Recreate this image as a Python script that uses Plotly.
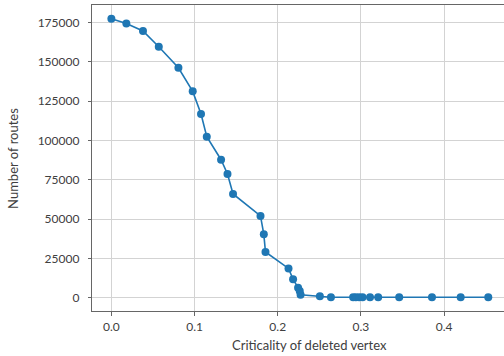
import plotly.graph_objects as go

criticality = [0.0, 0.018, 0.038, 0.057, 0.0806, 0.0978, 0.1078, 0.1147, 0.1319, 0.1396,
               0.1463, 0.1793, 0.1833, 0.1853, 0.2130, 0.2185, 0.2245, 0.2265, 0.2275,
               0.2507, 0.2640, 0.2907, 0.2940, 0.2980, 0.3020, 0.3110, 0.3208, 0.3461,
               0.3855, 0.4200, 0.4532]
routes = [177500, 174500, 169700, 159700, 146300, 131300, 116900, 102400, 87800, 78700,
          66000, 52000, 40300, 29100, 18600, 11700, 6400, 4200, 1800,
          1000, 300, 300, 300, 300, 300, 300, 300, 300,
          300, 300, 300]

x_ticks = [0.0, 0.1, 0.2, 0.3, 0.4]
x_tick_labels = ["0.0", "0.1", "0.2", "0.3", "0.4"]
y_ticks = [0, 25000, 50000, 75000, 100000, 125000, 150000, 175000]
y_tick_labels = ["0", "25000", "50000", "75000", "100000", "125000", "150000", "175000"]

x_title = "Criticality of deleted vertex"
y_title = "Number of routes"

blue = "#1f77b4"
text_col = "#404040"
font_family = "Lato, Open Sans, sans-serif"

fig = go.Figure(go.Scatter(
    x=criticality, y=routes, mode="lines+markers",
    line=dict(color=blue, width=1.6),
    marker=dict(color=blue, size=8),
))

fig.update_layout(
    width=504, height=356,
    margin=dict(l=92, r=0, t=5, b=45),
    paper_bgcolor="white", plot_bgcolor="white",
    showlegend=False,
    font=dict(family=font_family, size=12, color=text_col),
    annotations=[
        dict(text=x_title, xref="paper", yref="paper", x=0.527, y=-0.111,
             xanchor="center", yanchor="middle", showarrow=False,
             font=dict(size=13, color=text_col)),
        dict(text=y_title, xref="paper", yref="paper", x=-0.192, y=0.5,
             xanchor="center", yanchor="middle", showarrow=False, textangle=-90,
             font=dict(size=13, color=text_col)),
    ],
)
fig.update_xaxes(
    range=[-0.0233, 0.4721], tickvals=x_ticks, ticktext=x_tick_labels,
    showgrid=True, gridcolor="#d3d3d3", gridwidth=1.2,
    showline=True, linecolor="#666666", linewidth=1.4, mirror=True,
    ticks="outside", ticklen=4, tickcolor="#666666", zeroline=False,
)
fig.update_yaxes(
    range=[-8463, 186240], tickvals=y_ticks, ticktext=y_tick_labels,
    showgrid=True, gridcolor="#d3d3d3", gridwidth=1.2,
    showline=True, linecolor="#666666", linewidth=1.4,
    ticks="outside", ticklen=3, tickcolor="#666666", zeroline=False,
    ticklabelstandoff=6,
)

fig.write_html("out.html", config={"displayModeBar": False},
               post_script="document.body.style.margin='0';")
